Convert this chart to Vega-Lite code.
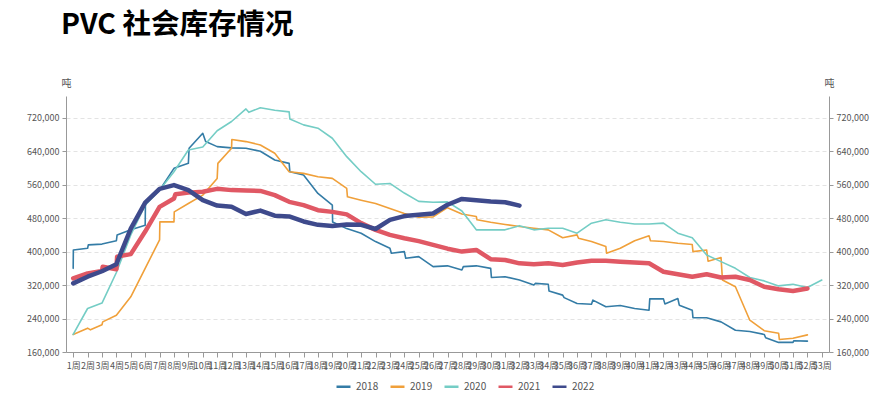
{
  "$schema": "https://vega.github.io/schema/vega-lite/v6.json",
  "width": 763,
  "height": 256,
  "autosize": {"type": "none"},
  "padding": {"left": 66, "top": 96, "right": 67, "bottom": 41},
  "background": "white",
  "config": {"view": {"stroke": null}, "font": "Noto Sans CJK SC"},
  "title": {"text": "PVC 社会库存情况", "anchor": "start", "frame": "group", "font": "Noto Sans CJK SC", "fontSize": 28.5, "fontWeight": "bold", "color": "#000000", "dx": -5, "offset": 16, "baseline": "alphabetic"},
  "datasets": {
    "d": [
      {"year": "2018", "week": 1, "value": 360000}, {"year": "2018", "week": 1.01, "value": 404000}, {"year": "2018", "week": 2, "value": 408000}, {"year": "2018", "week": 2.05, "value": 416000}, {"year": "2018", "week": 3, "value": 418000}, {"year": "2018", "week": 4, "value": 426000}, {"year": "2018", "week": 4.05, "value": 440000}, {"year": "2018", "week": 5, "value": 452000}, {"year": "2018", "week": 6, "value": 463000}, {"year": "2018", "week": 6.02, "value": 519000}, {"year": "2018", "week": 7, "value": 547000}, {"year": "2018", "week": 8, "value": 599000}, {"year": "2018", "week": 9, "value": 611000}, {"year": "2018", "week": 9.05, "value": 647000}, {"year": "2018", "week": 10, "value": 683000}, {"year": "2018", "week": 10.2, "value": 663000}, {"year": "2018", "week": 11, "value": 651000}, {"year": "2018", "week": 12, "value": 648000}, {"year": "2018", "week": 13, "value": 647000}, {"year": "2018", "week": 14, "value": 640000}, {"year": "2018", "week": 15, "value": 619000}, {"year": "2018", "week": 16, "value": 611000}, {"year": "2018", "week": 16.05, "value": 591000}, {"year": "2018", "week": 17, "value": 583000}, {"year": "2018", "week": 18, "value": 539000}, {"year": "2018", "week": 19, "value": 511000}, {"year": "2018", "week": 19.02, "value": 471000}, {"year": "2018", "week": 20, "value": 455000}, {"year": "2018", "week": 21, "value": 444000}, {"year": "2018", "week": 22, "value": 424000}, {"year": "2018", "week": 23, "value": 408000}, {"year": "2018", "week": 23.1, "value": 396000}, {"year": "2018", "week": 24, "value": 400000}, {"year": "2018", "week": 24.1, "value": 384000}, {"year": "2018", "week": 25, "value": 388000}, {"year": "2018", "week": 26, "value": 364000}, {"year": "2018", "week": 27, "value": 366000}, {"year": "2018", "week": 28, "value": 356000}, {"year": "2018", "week": 28.1, "value": 364000}, {"year": "2018", "week": 29, "value": 366000}, {"year": "2018", "week": 30, "value": 360000}, {"year": "2018", "week": 30.05, "value": 338000}, {"year": "2018", "week": 31, "value": 340000}, {"year": "2018", "week": 32, "value": 332000}, {"year": "2018", "week": 33, "value": 320000}, {"year": "2018", "week": 33.1, "value": 324000}, {"year": "2018", "week": 34, "value": 322000}, {"year": "2018", "week": 34.05, "value": 306000}, {"year": "2018", "week": 35, "value": 296000}, {"year": "2018", "week": 35.1, "value": 290000}, {"year": "2018", "week": 36, "value": 276000}, {"year": "2018", "week": 37, "value": 274000}, {"year": "2018", "week": 37.1, "value": 284000}, {"year": "2018", "week": 38, "value": 268000}, {"year": "2018", "week": 39, "value": 271000}, {"year": "2018", "week": 40, "value": 264000}, {"year": "2018", "week": 41, "value": 260000}, {"year": "2018", "week": 41.05, "value": 287000}, {"year": "2018", "week": 42, "value": 287000}, {"year": "2018", "week": 42.1, "value": 275000}, {"year": "2018", "week": 43, "value": 288000}, {"year": "2018", "week": 43.1, "value": 272000}, {"year": "2018", "week": 44, "value": 260000}, {"year": "2018", "week": 44.05, "value": 242000}, {"year": "2018", "week": 45, "value": 242000}, {"year": "2018", "week": 46, "value": 232000}, {"year": "2018", "week": 47, "value": 212000}, {"year": "2018", "week": 48, "value": 209000}, {"year": "2018", "week": 49, "value": 202000}, {"year": "2018", "week": 49.1, "value": 194000}, {"year": "2018", "week": 50, "value": 183000}, {"year": "2018", "week": 51, "value": 183000}, {"year": "2018", "week": 51.05, "value": 187000}, {"year": "2018", "week": 52, "value": 186000},
      {"year": "2019", "week": 1, "value": 202000}, {"year": "2019", "week": 2, "value": 217000}, {"year": "2019", "week": 2.2, "value": 213000}, {"year": "2019", "week": 3, "value": 225000}, {"year": "2019", "week": 3.05, "value": 232000}, {"year": "2019", "week": 4, "value": 248000}, {"year": "2019", "week": 5, "value": 292000}, {"year": "2019", "week": 6, "value": 360000}, {"year": "2019", "week": 7, "value": 428000}, {"year": "2019", "week": 7.02, "value": 471000}, {"year": "2019", "week": 8, "value": 471000}, {"year": "2019", "week": 8.02, "value": 495000}, {"year": "2019", "week": 9, "value": 515000}, {"year": "2019", "week": 10, "value": 535000}, {"year": "2019", "week": 11, "value": 575000}, {"year": "2019", "week": 11.05, "value": 611000}, {"year": "2019", "week": 12, "value": 647000}, {"year": "2019", "week": 12.02, "value": 668000}, {"year": "2019", "week": 13, "value": 663000}, {"year": "2019", "week": 14, "value": 655000}, {"year": "2019", "week": 15, "value": 635000}, {"year": "2019", "week": 16, "value": 591000}, {"year": "2019", "week": 17, "value": 587000}, {"year": "2019", "week": 18, "value": 579000}, {"year": "2019", "week": 19, "value": 575000}, {"year": "2019", "week": 20, "value": 551000}, {"year": "2019", "week": 20.05, "value": 531000}, {"year": "2019", "week": 21, "value": 523000}, {"year": "2019", "week": 22, "value": 515000}, {"year": "2019", "week": 23, "value": 503000}, {"year": "2019", "week": 24, "value": 491000}, {"year": "2019", "week": 25, "value": 482000}, {"year": "2019", "week": 26, "value": 483000}, {"year": "2019", "week": 27, "value": 505000}, {"year": "2019", "week": 28, "value": 490000}, {"year": "2019", "week": 29, "value": 484000}, {"year": "2019", "week": 29.05, "value": 476000}, {"year": "2019", "week": 30, "value": 470000}, {"year": "2019", "week": 31, "value": 465000}, {"year": "2019", "week": 32, "value": 460000}, {"year": "2019", "week": 33, "value": 456000}, {"year": "2019", "week": 34, "value": 452000}, {"year": "2019", "week": 35, "value": 433000}, {"year": "2019", "week": 36, "value": 440000}, {"year": "2019", "week": 36.1, "value": 432000}, {"year": "2019", "week": 37, "value": 424000}, {"year": "2019", "week": 38, "value": 412000}, {"year": "2019", "week": 38.05, "value": 396000}, {"year": "2019", "week": 39, "value": 408000}, {"year": "2019", "week": 40, "value": 426000}, {"year": "2019", "week": 41, "value": 438000}, {"year": "2019", "week": 41.1, "value": 426000}, {"year": "2019", "week": 42, "value": 424000}, {"year": "2019", "week": 43, "value": 420000}, {"year": "2019", "week": 44, "value": 417000}, {"year": "2019", "week": 44.05, "value": 400000}, {"year": "2019", "week": 45, "value": 404000}, {"year": "2019", "week": 45.1, "value": 377000}, {"year": "2019", "week": 46, "value": 386000}, {"year": "2019", "week": 46.1, "value": 332000}, {"year": "2019", "week": 47, "value": 316000}, {"year": "2019", "week": 48, "value": 236000}, {"year": "2019", "week": 49, "value": 211000}, {"year": "2019", "week": 50, "value": 205000}, {"year": "2019", "week": 50.05, "value": 190000}, {"year": "2019", "week": 51, "value": 193000}, {"year": "2019", "week": 52, "value": 201000},
      {"year": "2020", "week": 1, "value": 202000}, {"year": "2020", "week": 2, "value": 264000}, {"year": "2020", "week": 3, "value": 277000}, {"year": "2020", "week": 4, "value": 350000}, {"year": "2020", "week": 5, "value": 440000}, {"year": "2020", "week": 6, "value": 511000}, {"year": "2020", "week": 7, "value": 547000}, {"year": "2020", "week": 8, "value": 591000}, {"year": "2020", "week": 9, "value": 643000}, {"year": "2020", "week": 10, "value": 650000}, {"year": "2020", "week": 11, "value": 689000}, {"year": "2020", "week": 12, "value": 711000}, {"year": "2020", "week": 13, "value": 741000}, {"year": "2020", "week": 13.2, "value": 733000}, {"year": "2020", "week": 14, "value": 744000}, {"year": "2020", "week": 15, "value": 738000}, {"year": "2020", "week": 16, "value": 734000}, {"year": "2020", "week": 16.05, "value": 717000}, {"year": "2020", "week": 17, "value": 703000}, {"year": "2020", "week": 18, "value": 695000}, {"year": "2020", "week": 19, "value": 671000}, {"year": "2020", "week": 20, "value": 627000}, {"year": "2020", "week": 21, "value": 591000}, {"year": "2020", "week": 22, "value": 561000}, {"year": "2020", "week": 23, "value": 563000}, {"year": "2020", "week": 24, "value": 540000}, {"year": "2020", "week": 25, "value": 520000}, {"year": "2020", "week": 26, "value": 518000}, {"year": "2020", "week": 27, "value": 519000}, {"year": "2020", "week": 28, "value": 497000}, {"year": "2020", "week": 29, "value": 452000}, {"year": "2020", "week": 30, "value": 452000}, {"year": "2020", "week": 31, "value": 452000}, {"year": "2020", "week": 32, "value": 462000}, {"year": "2020", "week": 33, "value": 452000}, {"year": "2020", "week": 34, "value": 456000}, {"year": "2020", "week": 35, "value": 456000}, {"year": "2020", "week": 36, "value": 444000}, {"year": "2020", "week": 37, "value": 468000}, {"year": "2020", "week": 38, "value": 476000}, {"year": "2020", "week": 39, "value": 470000}, {"year": "2020", "week": 40, "value": 466000}, {"year": "2020", "week": 41, "value": 466000}, {"year": "2020", "week": 42, "value": 468000}, {"year": "2020", "week": 43, "value": 444000}, {"year": "2020", "week": 44, "value": 433000}, {"year": "2020", "week": 45, "value": 392000}, {"year": "2020", "week": 46, "value": 376000}, {"year": "2020", "week": 47, "value": 360000}, {"year": "2020", "week": 48, "value": 338000}, {"year": "2020", "week": 49, "value": 330000}, {"year": "2020", "week": 50, "value": 318000}, {"year": "2020", "week": 51, "value": 322000}, {"year": "2020", "week": 52, "value": 314000}, {"year": "2020", "week": 53, "value": 332000},
      {"year": "2021", "week": 1, "value": 336000}, {"year": "2021", "week": 2, "value": 348000}, {"year": "2021", "week": 3, "value": 354000}, {"year": "2021", "week": 3.05, "value": 364000}, {"year": "2021", "week": 4, "value": 358000}, {"year": "2021", "week": 4.05, "value": 388000}, {"year": "2021", "week": 5, "value": 394000}, {"year": "2021", "week": 6, "value": 448000}, {"year": "2021", "week": 7, "value": 507000}, {"year": "2021", "week": 8, "value": 527000}, {"year": "2021", "week": 8.1, "value": 537000}, {"year": "2021", "week": 9, "value": 541000}, {"year": "2021", "week": 10, "value": 543000}, {"year": "2021", "week": 11, "value": 550000}, {"year": "2021", "week": 12, "value": 547000}, {"year": "2021", "week": 13, "value": 546000}, {"year": "2021", "week": 14, "value": 545000}, {"year": "2021", "week": 15, "value": 535000}, {"year": "2021", "week": 16, "value": 519000}, {"year": "2021", "week": 17, "value": 511000}, {"year": "2021", "week": 18, "value": 499000}, {"year": "2021", "week": 19, "value": 495000}, {"year": "2021", "week": 20, "value": 489000}, {"year": "2021", "week": 21, "value": 468000}, {"year": "2021", "week": 22, "value": 452000}, {"year": "2021", "week": 23, "value": 440000}, {"year": "2021", "week": 24, "value": 432000}, {"year": "2021", "week": 25, "value": 425000}, {"year": "2021", "week": 26, "value": 416000}, {"year": "2021", "week": 27, "value": 407000}, {"year": "2021", "week": 28, "value": 400000}, {"year": "2021", "week": 29, "value": 404000}, {"year": "2021", "week": 30, "value": 382000}, {"year": "2021", "week": 31, "value": 380000}, {"year": "2021", "week": 32, "value": 372000}, {"year": "2021", "week": 33, "value": 370000}, {"year": "2021", "week": 34, "value": 372000}, {"year": "2021", "week": 35, "value": 368000}, {"year": "2021", "week": 36, "value": 374000}, {"year": "2021", "week": 37, "value": 378000}, {"year": "2021", "week": 38, "value": 378000}, {"year": "2021", "week": 39, "value": 376000}, {"year": "2021", "week": 40, "value": 374000}, {"year": "2021", "week": 41, "value": 372000}, {"year": "2021", "week": 42, "value": 352000}, {"year": "2021", "week": 43, "value": 346000}, {"year": "2021", "week": 44, "value": 340000}, {"year": "2021", "week": 45, "value": 346000}, {"year": "2021", "week": 46, "value": 338000}, {"year": "2021", "week": 47, "value": 340000}, {"year": "2021", "week": 48, "value": 332000}, {"year": "2021", "week": 49, "value": 316000}, {"year": "2021", "week": 50, "value": 310000}, {"year": "2021", "week": 51, "value": 306000}, {"year": "2021", "week": 52, "value": 312000},
      {"year": "2022", "week": 1, "value": 324000}, {"year": "2022", "week": 2, "value": 340000}, {"year": "2022", "week": 3, "value": 353000}, {"year": "2022", "week": 4, "value": 370000}, {"year": "2022", "week": 5, "value": 455000}, {"year": "2022", "week": 6, "value": 517000}, {"year": "2022", "week": 7, "value": 550000}, {"year": "2022", "week": 8, "value": 559000}, {"year": "2022", "week": 9, "value": 547000}, {"year": "2022", "week": 10, "value": 523000}, {"year": "2022", "week": 11, "value": 510000}, {"year": "2022", "week": 12, "value": 507000}, {"year": "2022", "week": 13, "value": 490000}, {"year": "2022", "week": 14, "value": 498000}, {"year": "2022", "week": 15, "value": 486000}, {"year": "2022", "week": 16, "value": 484000}, {"year": "2022", "week": 17, "value": 472000}, {"year": "2022", "week": 18, "value": 464000}, {"year": "2022", "week": 19, "value": 461000}, {"year": "2022", "week": 20, "value": 465000}, {"year": "2022", "week": 21, "value": 464000}, {"year": "2022", "week": 22, "value": 454000}, {"year": "2022", "week": 23, "value": 476000}, {"year": "2022", "week": 24, "value": 485000}, {"year": "2022", "week": 25, "value": 488000}, {"year": "2022", "week": 26, "value": 491000}, {"year": "2022", "week": 27, "value": 512000}, {"year": "2022", "week": 28, "value": 526000}, {"year": "2022", "week": 29, "value": 523000}, {"year": "2022", "week": 30, "value": 520000}, {"year": "2022", "week": 31, "value": 518000}, {"year": "2022", "week": 32, "value": 510000}
    ]
  },
  "data": {"name": "d"},
  "encoding": {
    "x": {
      "field": "week", "type": "quantitative",
      "scale": {"domain": [0.5, 53.5], "nice": false, "zero": false},
      "axis": {
        "values": [1,2,3,4,5,6,7,8,9,10,11,12,13,14,15,16,17,18,19,20,21,22,23,24,25,26,27,28,29,30,31,32,33,34,35,36,37,38,39,40,41,42,43,44,45,46,47,48,49,50,51,52,53],
        "labelExpr": "datum.value + '周'",
        "labelOverlap": false, "labelBound": false, "labelFlush": false,
        "labelFontSize": 9, "labelColor": "#555555", "labelFont": "Noto Sans CJK SC",
        "tickSize": 5, "labelPadding": 4, "title": null, "grid": false,
        "domainColor": "#999999", "tickColor": "#999999"
      }
    },
    "color": {
      "field": "year", "type": "nominal",
      "scale": {"domain": ["2018", "2019", "2020", "2021", "2022"], "range": ["#347ca6", "#f0a03a", "#74cdc5", "#e05864", "#3e4a8c"]},
      "legend": {
        "orient": "none", "legendX": 269, "legendY": 282, "direction": "horizontal",
        "title": null, "symbolType": "stroke", "symbolSize": 196, "symbolStrokeWidth": 2.5,
        "labelFontSize": 10, "labelColor": "#555555", "columnPadding": 6, "labelOffset": 4
      }
    }
  },
  "layer": [
    {
      "transform": [{"filter": "datum.year < '2021'"}],
      "mark": {"type": "line", "strokeWidth": 1.6, "strokeJoin": "round", "strokeCap": "round"},
      "encoding": {
        "y": {
          "field": "value", "type": "quantitative",
          "scale": {"domain": [160000, 772000], "nice": false, "zero": false},
          "axis": {
            "orient": "left",
            "values": [160000, 240000, 320000, 400000, 480000, 560000, 640000, 720000],
            "format": ",.0f", "title": "吨", "titleAngle": 0, "titleX": 0, "titleY": -8,
            "titleBaseline": "bottom", "titleAlign": "center", "titleFontSize": 10,
            "titleFontWeight": "normal", "titleColor": "#555555",
            "labelFontSize": 9, "labelColor": "#555555", "tickSize": 4, "labelPadding": 3,
            "domainColor": "#999999", "tickColor": "#999999",
            "grid": true, "gridDash": [4, 3], "gridColor": "#e3e3e3"
          }
        }
      }
    },
    {
      "transform": [{"filter": "datum.year >= '2021'"}],
      "mark": {"type": "line", "strokeWidth": 4.5, "strokeJoin": "round", "strokeCap": "round"},
      "encoding": {
        "y": {
          "field": "value", "type": "quantitative",
          "scale": {"domain": [160000, 772000], "nice": false, "zero": false},
          "axis": {
            "orient": "right",
            "values": [160000, 240000, 320000, 400000, 480000, 560000, 640000, 720000],
            "format": ",.0f", "title": "吨", "titleAngle": 0, "titleX": 0, "titleY": -8,
            "titleBaseline": "bottom", "titleAlign": "center", "titleFontSize": 10,
            "titleFontWeight": "normal", "titleColor": "#555555",
            "labelFontSize": 9, "labelColor": "#555555", "tickSize": 4, "labelPadding": 3,
            "domainColor": "#999999", "tickColor": "#999999", "grid": false
          }
        }
      }
    }
  ],
  "resolve": {"scale": {"y": "independent"}}
}
